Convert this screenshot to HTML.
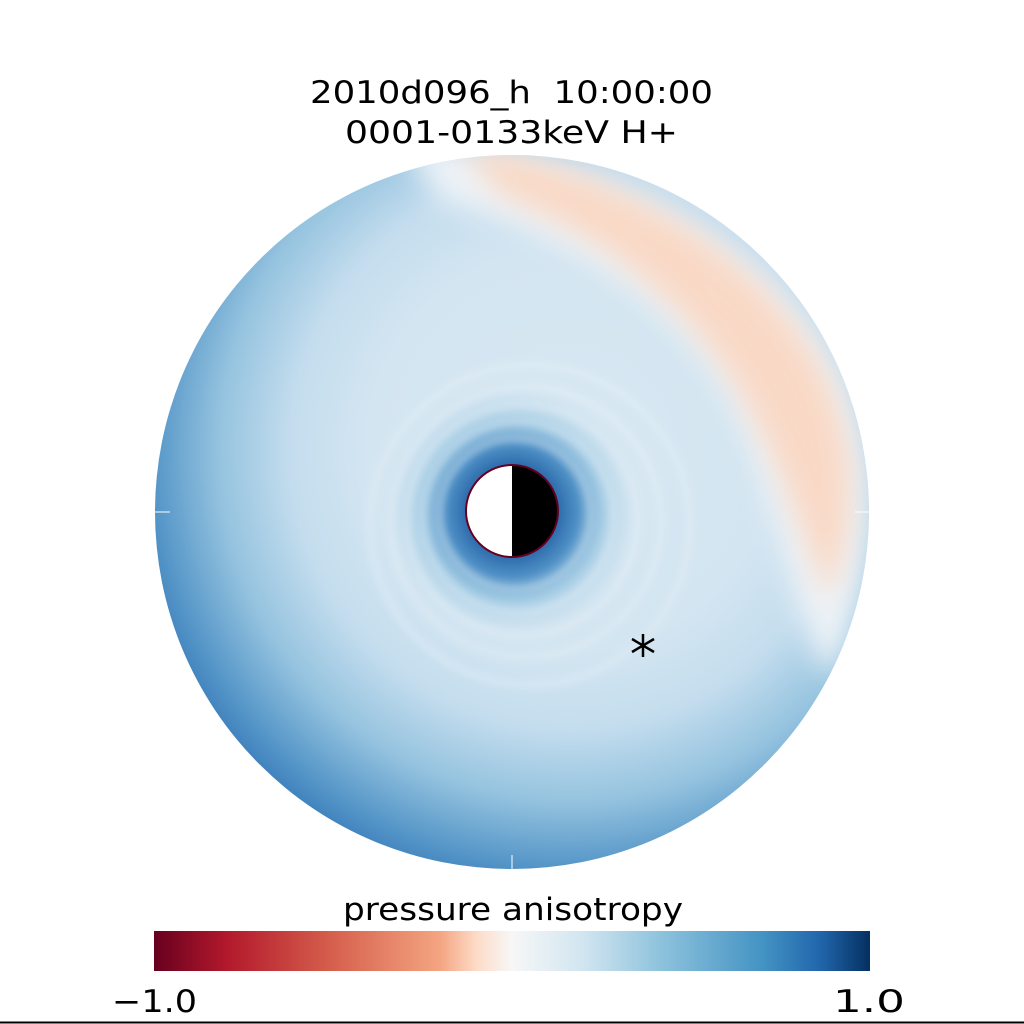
<!DOCTYPE html>
<html><head><style>body{margin:0;background:#fff}svg{display:block}</style></head>
<body>
<svg width="1024" height="1024" viewBox="0 0 1024 1024" xmlns="http://www.w3.org/2000/svg">
<defs>
<radialGradient id="bg" cx="570" cy="450" r="450" gradientUnits="userSpaceOnUse">
<stop offset="0" stop-color="#d8e8f2"/>
<stop offset="0.45" stop-color="#d3e5f1"/>
<stop offset="0.62" stop-color="#c4ddee"/>
<stop offset="0.78" stop-color="#95c3df"/>
<stop offset="0.92" stop-color="#5898c9"/>
<stop offset="1" stop-color="#3a7dba"/>
</radialGradient>
<radialGradient id="inner" cx="512" cy="511" r="130" gradientUnits="userSpaceOnUse">
<stop offset="0.35" stop-color="#2d6bab"/>
<stop offset="0.5" stop-color="#4e8fc5"/>
<stop offset="0.7" stop-color="#92c2df" stop-opacity="0.7"/>
<stop offset="1" stop-color="#cfe3f0" stop-opacity="0"/>
</radialGradient>
<linearGradient id="cb" x1="0" x2="1">
<stop offset="0" stop-color="#67001f"/>
<stop offset="0.1" stop-color="#b2182b"/>
<stop offset="0.25" stop-color="#d6604d"/>
<stop offset="0.4" stop-color="#f4a582"/>
<stop offset="0.45" stop-color="#fddbc7"/>
<stop offset="0.5" stop-color="#f7f7f7"/>
<stop offset="0.6" stop-color="#d1e5f0"/>
<stop offset="0.7" stop-color="#92c5de"/>
<stop offset="0.85" stop-color="#4393c3"/>
<stop offset="0.93" stop-color="#2166ac"/>
<stop offset="1" stop-color="#053061"/>
</linearGradient>
<filter id="bl" x="-20%" y="-20%" width="140%" height="140%"><feGaussianBlur stdDeviation="14"/></filter>
<filter id="bl2"><feGaussianBlur stdDeviation="4"/></filter>
<clipPath id="cc"><circle cx="512" cy="512" r="357"/></clipPath>
</defs>
<g clip-path="url(#cc)">
<rect x="150" y="150" width="724" height="724" fill="url(#bg)"/>
<path d="M400 140 C620 160 780 250 840 380 C880 470 875 580 830 680 C790 620 780 500 730 400 C680 310 590 240 440 200 Z" fill="#eef3f7" filter="url(#bl)"/>
<path d="M460 145 C630 170 770 260 825 375 C860 450 858 530 828 600 C800 530 775 450 735 385 C685 305 610 240 500 195 Z" fill="#f9d9c6" filter="url(#bl)"/>
<circle cx="512" cy="511" r="130" fill="url(#inner)"/>
<g fill="none" stroke="#eef5fa" stroke-width="3" opacity="0.7" filter="url(#bl2)">
<circle cx="515" cy="514" r="75"/><circle cx="518" cy="517" r="95"/><circle cx="522" cy="520" r="115"/><circle cx="526" cy="522" r="135"/><circle cx="530" cy="525" r="160"/>
</g>
</g>
<line x1="155" y1="512" x2="170" y2="512" stroke="#fff"/>
<line x1="855" y1="512" x2="870" y2="512" stroke="#fff"/>
<line x1="512" y1="855" x2="512" y2="869" stroke="#fff"/>
<circle cx="512" cy="511" r="46" fill="#fff"/>
<path d="M512 465 A46 46 0 0 1 512 557 Z" fill="#000"/>
<circle cx="512" cy="511" r="46" fill="none" stroke="#67001f" stroke-width="2"/>
<g stroke="#000" stroke-width="2.5"><line x1="643" y1="634" x2="643" y2="657"/><line x1="632" y1="639" x2="654" y2="652"/><line x1="632" y1="652" x2="654" y2="639"/></g>
<g font-family="DejaVu Sans, Liberation Sans, sans-serif" font-size="31" fill="#000">
<text x="310" y="103" textLength="403" lengthAdjust="spacingAndGlyphs" xml:space="preserve">2010d096_h  10:00:00</text>
<text x="345" y="143" textLength="333" lengthAdjust="spacingAndGlyphs">0001-0133keV H+</text>
<text x="343" y="920" textLength="340" lengthAdjust="spacingAndGlyphs">pressure anisotropy</text>
<text x="112" y="1012" textLength="85" lengthAdjust="spacingAndGlyphs">−1.0</text>
<text x="833" y="1012" textLength="72" lengthAdjust="spacingAndGlyphs">1.0</text>
</g>
<rect x="154" y="931" width="716" height="40" fill="url(#cb)"/>
<line x1="0" y1="1022.5" x2="1024" y2="1022.5" stroke="#000" stroke-width="2"/>
</svg>
</body></html>
